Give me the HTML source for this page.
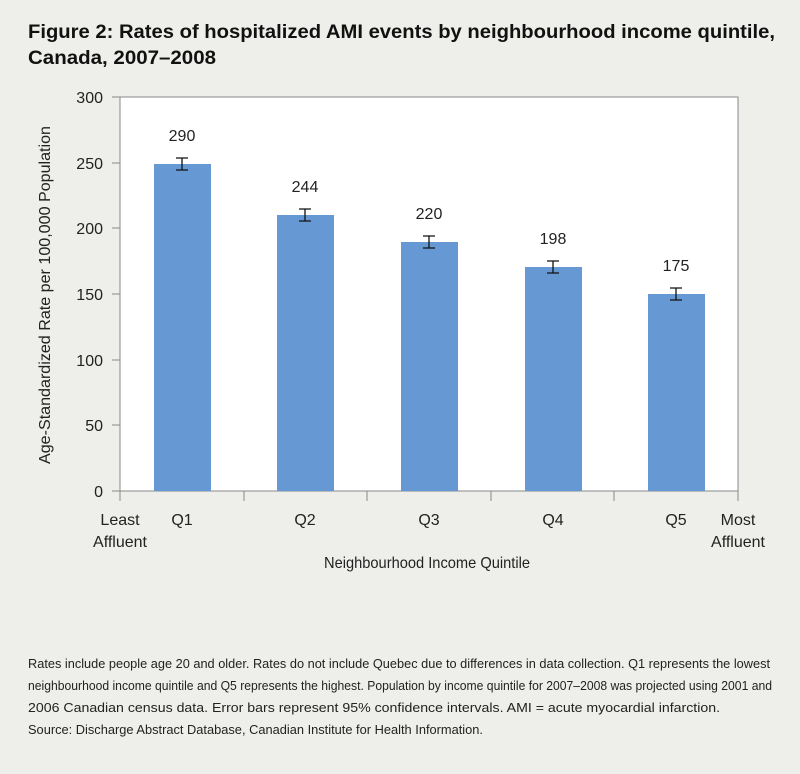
<!DOCTYPE html>
<html><head><style>
html,body{margin:0;padding:0;background:#eeeeea;}
svg{display:block;font-family:"Liberation Sans",sans-serif;}
</style></head><body>
<svg width="800" height="774" xmlns="http://www.w3.org/2000/svg">
<rect width="800" height="774" fill="#eeeeea"/>
<g font-weight="bold" font-size="19" fill="#111">
<text x="28" y="38" textLength="747" lengthAdjust="spacingAndGlyphs">Figure 2: Rates of hospitalized AMI events by neighbourhood income quintile,</text>
<text x="28" y="64" textLength="188" lengthAdjust="spacingAndGlyphs">Canada, 2007–2008</text>
</g>
<rect x="120" y="97" width="618" height="394" fill="#fff" stroke="#888" stroke-width="1"/>
<g stroke="#888" stroke-width="1">
<line x1="112" y1="97" x2="120" y2="97"/><line x1="112" y1="163" x2="120" y2="163"/><line x1="112" y1="228" x2="120" y2="228"/><line x1="112" y1="294" x2="120" y2="294"/><line x1="112" y1="360" x2="120" y2="360"/><line x1="112" y1="425" x2="120" y2="425"/><line x1="112" y1="491" x2="120" y2="491"/>
<line x1="120" y1="491" x2="120" y2="501"/><line x1="244" y1="491" x2="244" y2="501"/><line x1="367" y1="491" x2="367" y2="501"/><line x1="491" y1="491" x2="491" y2="501"/><line x1="614" y1="491" x2="614" y2="501"/><line x1="738" y1="491" x2="738" y2="501"/>
</g>
<g font-size="16" fill="#222" text-anchor="end">
<text x="103" y="103">300</text><text x="103" y="169">250</text><text x="103" y="234">200</text><text x="103" y="300">150</text><text x="103" y="366">100</text><text x="103" y="431">50</text><text x="103" y="497">0</text>
</g>
<g fill="#6699d3">
<rect x="154" y="164" width="57" height="327"/>
<rect x="277" y="215" width="57" height="276"/>
<rect x="401" y="242" width="57" height="249"/>
<rect x="525" y="267" width="57" height="224"/>
<rect x="648" y="294" width="57" height="197"/>
</g>
<g stroke="#111" stroke-width="1.3" fill="none">
<path d="M176 158h12M182 158v12M176 170h12"/>
<path d="M299 209h12M305 209v12M299 221h12"/>
<path d="M423 236h12M429 236v12M423 248h12"/>
<path d="M547 261h12M553 261v12M547 273h12"/>
<path d="M670 288h12M676 288v12M670 300h12"/>
</g>
<g font-size="16" fill="#222" text-anchor="middle">
<text x="182" y="141">290</text><text x="305" y="192">244</text><text x="429" y="219">220</text><text x="553" y="244">198</text><text x="676" y="271">175</text>
<text x="182" y="525">Q1</text><text x="305" y="525">Q2</text><text x="429" y="525">Q3</text><text x="553" y="525">Q4</text><text x="676" y="525">Q5</text>
<text x="120" y="525">Least</text><text x="120" y="547">Affluent</text>
<text x="738" y="525">Most</text><text x="738" y="547">Affluent</text>
<text x="427" y="568" textLength="206" lengthAdjust="spacingAndGlyphs">Neighbourhood Income Quintile</text>
<text transform="translate(50,295) rotate(-90)" textLength="338" lengthAdjust="spacingAndGlyphs">Age-Standardized Rate per 100,000 Population</text>
</g>
<g font-size="12.5" fill="#222">
<text x="28" y="668" textLength="742" lengthAdjust="spacingAndGlyphs">Rates include people age 20 and older. Rates do not include Quebec due to differences in data collection. Q1 represents the lowest</text>
<text x="28" y="690" textLength="744" lengthAdjust="spacingAndGlyphs">neighbourhood income quintile and Q5 represents the highest. Population by income quintile for 2007–2008 was projected using 2001 and</text>
<text x="28" y="712" textLength="692" lengthAdjust="spacingAndGlyphs">2006 Canadian census data. Error bars represent 95% confidence intervals. AMI = acute myocardial infarction.</text>
<text x="28" y="734" textLength="455" lengthAdjust="spacingAndGlyphs">Source: Discharge Abstract Database, Canadian Institute for Health Information.</text>
</g>
</svg>
</body></html>
